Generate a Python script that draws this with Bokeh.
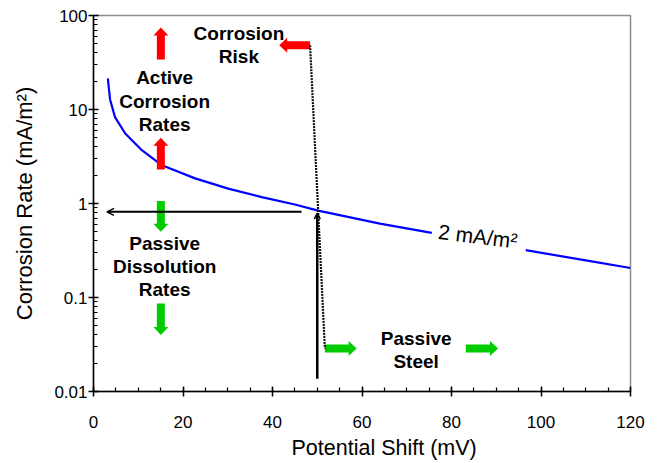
import math
from bokeh.plotting import figure
from bokeh.models import (Label, Arrow, OpenHead, FixedTicker, Range1d, Title)
from bokeh.embed import file_html
from bokeh.resources import INLINE

# ---------------- data ----------------
curve_x = [3.2, 3.7, 4.8, 7.1, 10.8, 15.3, 22.7, 30.1, 37.6, 45.0, 50.2, 64.0, 75.6,
           float("nan"), 96.6, 108.7, 120.0]
curve_y = [21.4, 12.8, 8.3, 5.55, 3.69, 2.55, 1.85, 1.44, 1.17, 0.976, 0.84, 0.61, 0.487,
           float("nan"), 0.319, 0.254, 0.206]

x_ticks = [0, 20, 40, 60, 80, 100, 120]
y_ticks = [0.01, 0.1, 1, 10, 100]
y_tick_labels = ["0.01", "0.1", "1", "10", "100"]

x_title = "Potential Shift (mV)"
y_title = "Corrosion Rate (mA/m²)"

# block arrows: tail x, tail y, tip x, tip y
red_tail_x = [48.4, 15.05, 15.05]
red_tail_y = [48.3, 34.0, 2.3]
red_tip_x = [41.5, 15.05, 15.05]
red_tip_y = [48.3, 74.5, 5.0]

green_tail_x = [15.05, 15.05, 51.7, 83.2]
green_tail_y = [1.06, 0.0863, 0.0287, 0.0287]
green_tip_x = [15.05, 15.05, 58.8, 90.4]
green_tip_y = [0.5, 0.0398, 0.0287, 0.0287]

# thin black arrows / line
shift_arrow = dict(x_start=46.5, y_start=0.815, x_end=3.0, y_end=0.815)
rise_arrow = dict(x_start=50.0, y_start=0.0137, x_end=50.0, y_end=0.79)
risk_line_x = [48.4, 51.7]
risk_line_y = [48.3, 0.0287]

labels_text = ["Corrosion\nRisk", "Active\nCorrosion\nRates",
               "Passive\nDissolution\nRates", "Passive\nSteel"]
labels_x = [32.5, 15.9, 15.9, 72.1]
labels_y = [48.3, 12.3, 0.214, 0.0278]

curve_label = "2 mA/m²"
curve_label_x = 85.9
curve_label_y = 0.449

# ---------------- figure ----------------
W, H = 657, 463
L, R, T, B = 93, 27, 15, 72
FW, FH = W - L - R, H - T - B

p = figure(width=W, height=H, output_backend="svg", toolbar_location=None,
           x_range=Range1d(0, 120), y_range=Range1d(0.01, 100), y_axis_type="log",
           min_border_left=L, min_border_right=R, min_border_top=T, min_border_bottom=B)
p.xgrid.visible = False
p.ygrid.visible = False
p.outline_line_color = "#8c8c8c"
p.outline_line_width = 1.5
p.background_fill_color = "white"
p.border_fill_color = "white"

FONT = "Liberation Sans"

p.xaxis.ticker = FixedTicker(ticks=x_ticks,
                             minor_ticks=[v for v in range(0, 121, 5)])
minors = []
for d in [0.01, 0.1, 1, 10]:
    for k in range(2, 10):
        minors.append(d * k)
p.yaxis.ticker = FixedTicker(ticks=y_ticks, minor_ticks=minors)
p.yaxis.major_label_overrides = {t: s for t, s in zip(y_ticks, y_tick_labels)}

for ax in (p.xaxis[0], p.yaxis[0]):
    ax.axis_line_color = "black"
    ax.axis_line_width = 1.5
    ax.major_tick_line_color = "black"
    ax.major_tick_line_width = 1.5
    ax.minor_tick_line_color = "black"
    ax.minor_tick_line_width = 1.2
    ax.major_tick_in = 5
    ax.major_tick_out = 5
    ax.minor_tick_in = 4
    ax.minor_tick_out = 0
    ax.major_label_text_font = FONT
    ax.major_label_text_font_size = "17px"
    ax.major_label_text_color = "black"
    ax.axis_label_text_font = FONT
    ax.axis_label_text_font_style = "normal"
    ax.axis_label_text_color = "black"

p.yaxis.axis_label = y_title
p.yaxis.axis_label_text_font_size = "22px"
p.xaxis.major_label_standoff = 19
p.yaxis.major_label_standoff = 1
p.yaxis.axis_label_standoff = 14

# x-axis title, placed slightly right of centre as in the reference
p.add_layout(Title(text=x_title, align="left", offset=198, standoff=7,
                   text_font=FONT, text_font_size="21.5px", text_font_style="normal",
                   text_color="black"), "below")

# blue curve
p.line(curve_x, curve_y, line_color="#0000ff", line_width=2.2)

# block arrow polygons built in screen space through the axis scales
SX = FW / 120.0          # px per mV
SY = FH / 4.0            # px per decade

def block_arrow(x0, y0, x1, y1, body=4.0, head=7.5, head_len=8.0):
    X0, Y0 = x0 * SX, math.log10(y0) * SY
    X1, Y1 = x1 * SX, math.log10(y1) * SY
    dx, dy = X1 - X0, Y1 - Y0
    n = math.hypot(dx, dy)
    ux, uy = dx / n, dy / n
    px, py = -uy, ux
    bx, by = X1 - ux * head_len, Y1 - uy * head_len
    pts = [(X0 + px * body, Y0 + py * body),
           (bx + px * body, by + py * body),
           (bx + px * head, by + py * head),
           (X1, Y1),
           (bx - px * head, by - py * head),
           (bx - px * body, by - py * body),
           (X0 - px * body, Y0 - py * body)]
    return [q[0] / SX for q in pts], [10 ** (q[1] / SY) for q in pts]

def arrows(txs, tys, hxs, hys):
    xs, ys = [], []
    for a, b, c, d in zip(txs, tys, hxs, hys):
        ax_, ay_ = block_arrow(a, b, c, d)
        xs.append(ax_)
        ys.append(ay_)
    return xs, ys

rx, ry = arrows(red_tail_x, red_tail_y, red_tip_x, red_tip_y)
p.patches(rx, ry, fill_color="#ff0000", line_color=None)
gx, gy = arrows(green_tail_x, green_tail_y, green_tip_x, green_tip_y)
p.patches(gx, gy, fill_color="#00cc00", line_color=None)

# risk line (dotted look)
p.line(risk_line_x, risk_line_y, line_color="#111111", line_width=2.2, line_dash="2 1")

# black thin arrows
p.add_layout(Arrow(end=OpenHead(size=7, line_width=1.5, line_color="black"),
                   line_color="black", line_width=2, **shift_arrow))
p.add_layout(Arrow(end=OpenHead(size=6, line_width=1.5, line_color="black"),
                   line_color="black", line_width=2.5, **rise_arrow))

# text annotations
for t, x, y in zip(labels_text, labels_x, labels_y):
    p.add_layout(Label(x=x, y=y, text=t, text_align="center", text_baseline="middle",
                       text_font=FONT, text_font_size="19px", text_font_style="bold",
                       text_color="black", text_line_height=1.1))

p.add_layout(Label(x=curve_label_x, y=curve_label_y, text=curve_label,
                   text_align="center", text_baseline="middle", angle=-7,
                   angle_units="deg", text_font=FONT, text_font_size="21px",
                   text_color="black"))

open("out.html", "w").write(file_html(p, INLINE))
